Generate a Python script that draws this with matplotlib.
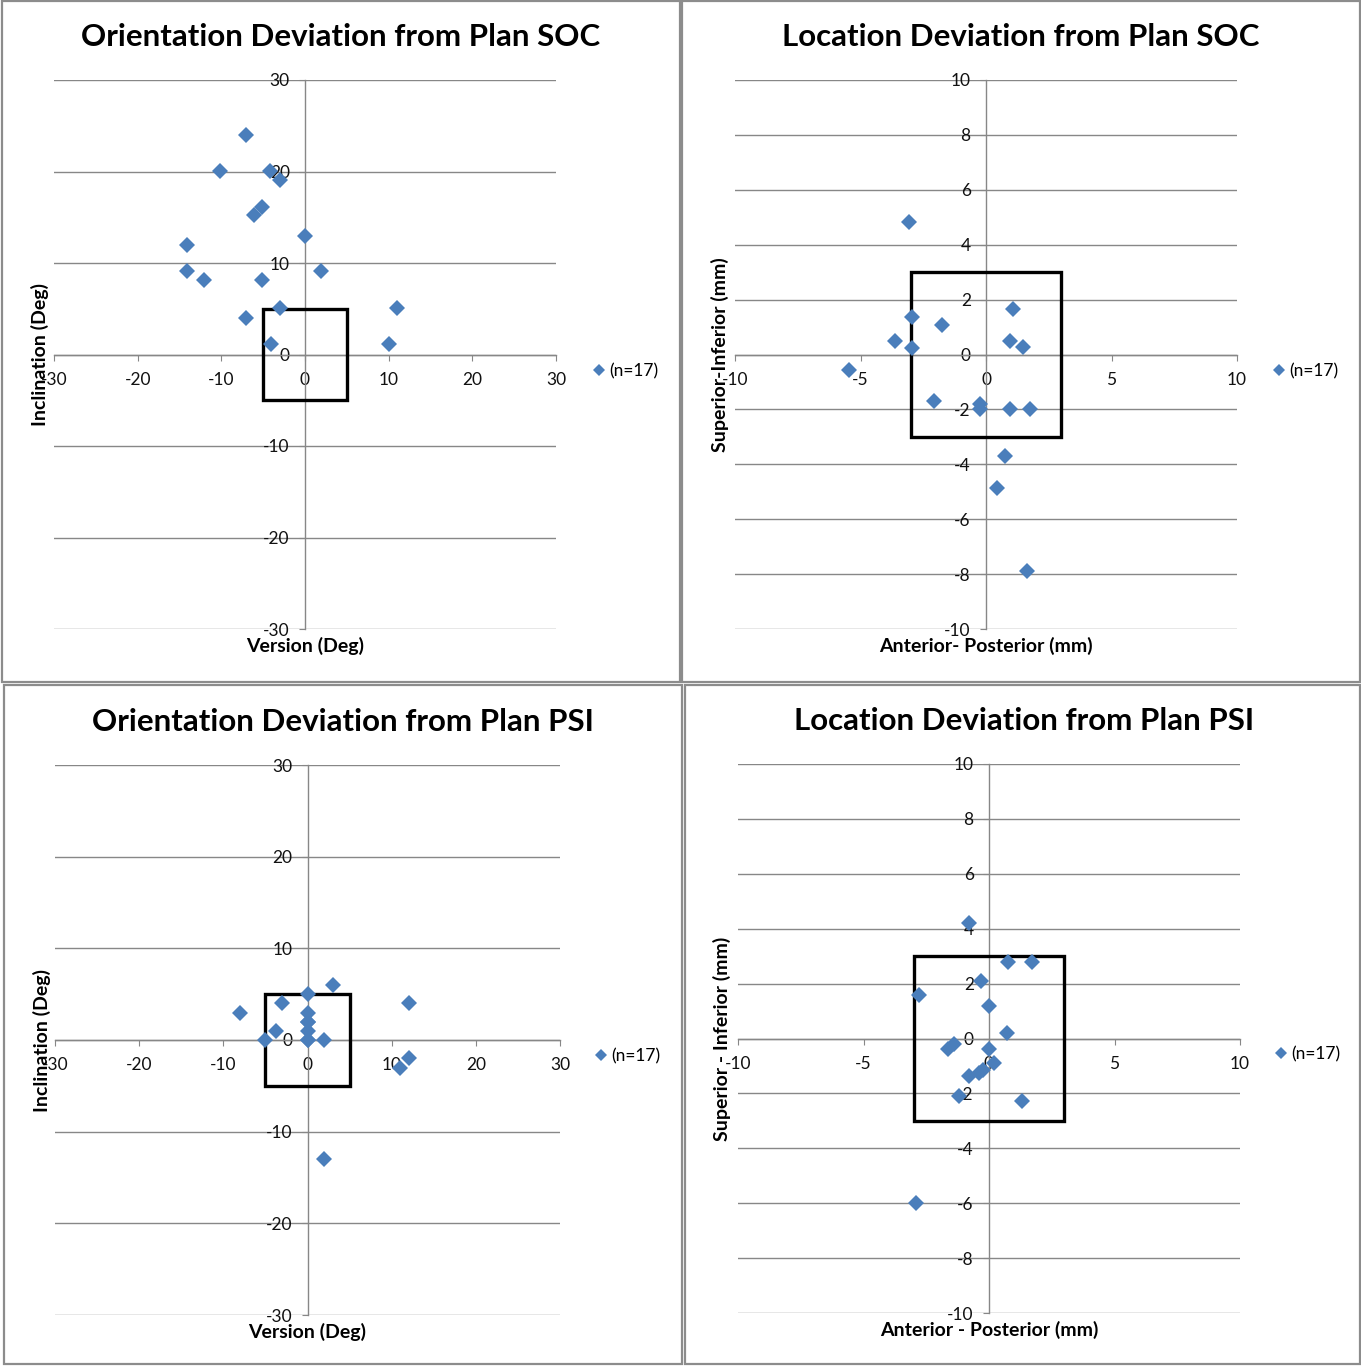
import numpy as np
import matplotlib
matplotlib.use("Agg")
import matplotlib.pyplot as plt
from matplotlib.patches import Rectangle

# ---------------- data ----------------
soc_version = [-7.0, -10.2, -4.2, -3.0, -5.1, -6.1, 0.0, -14.1, -14.1, 1.9, -12.1, -5.1, -3.0, -7.0, 11.0, -4.1, 10.0]
soc_inclination = [24.0, 20.1, 20.1, 19.1, 16.1, 15.2, 13.0, 12.0, 9.1, 9.1, 8.1, 8.1, 5.1, 4.0, 5.1, 1.1, 1.1]

soc_ap = [-3.07, 1.08, -2.95, -1.75, -3.63, 0.96, 1.47, -2.95, -5.46, -2.07, -0.24, -0.24, 0.96, 1.75, 0.76, 0.44, 1.63]
soc_si = [4.81, 1.64, 1.35, 1.06, 0.51, 0.51, 0.29, 0.22, -0.58, -1.68, -1.79, -1.97, -1.97, -1.97, -3.68, -4.88, -7.87]

psi_version = [3.0, 0.0, -3.0, 12.0, -8.0, 0.0, 0.0, 0.0, -3.8, -5.0, 0.0, 2.0, 12.0, 11.0, 2.0, 0.0, 0.0]
psi_inclination = [6.0, 5.0, 4.0, 4.0, 3.0, 3.0, 2.0, 1.0, 1.0, 0.0, 0.0, 0.0, -2.0, -3.0, -13.0, 0.0, 2.0]

psi_ap = [-0.8, 0.75, 1.7, -0.3, -2.8, 0.0, 0.7, -1.4, -1.65, 0.0, 0.2, -0.25, -0.4, -0.8, -1.2, 1.3, -2.9]
psi_si = [4.2, 2.8, 2.8, 2.1, 1.6, 1.2, 0.2, -0.2, -0.4, -0.4, -0.9, -1.15, -1.25, -1.37, -2.1, -2.27, -6.0]

orient_ticks_x = [-30, -20, -10, 0, 10, 20, 30]
orient_ticks_y = [-30, -20, -10, 0, 10, 20, 30]
loc_ticks_x = [-10, -5, 0, 5, 10]
loc_ticks_y = [-10, -8, -6, -4, -2, 0, 2, 4, 6, 8, 10]

orient_tol = 5
loc_tol = 3
series_label = "(n=17)"

# ---------------- style ----------------
W, H = 1361, 1366
FONT = ["Lato", "DejaVu Sans"]
plt.rcParams["font.family"] = FONT
GRID = "#878787"
BLUE = "#4A7EBB"

fig = plt.figure(figsize=(W / 100, H / 100), dpi=100)


def axpos(x0, y0, x1, y1):
    return [x0 / W, 1 - y1 / H, (x1 - x0) / W, (y1 - y0) / H]


def fx(px):
    return px / W


def fy(py):
    return 1 - py / H


def panel(box, xs, ys, xticks, yticks, tol, title, title_xy, xlabel, xlabel_y,
          ylabel, ylabel_x, legend_xy):
    ax = fig.add_axes(axpos(*box))
    ax.set_xlim(xticks[0], xticks[-1])
    ax.set_ylim(yticks[0], yticks[-1])
    ax.set_xticks(xticks)
    ax.set_yticks(yticks)
    ax.set_xticklabels([str(t) for t in xticks])
    ax.set_yticklabels([str(t) for t in yticks])
    for s in ["top", "right"]:
        ax.spines[s].set_visible(False)
    ax.spines["left"].set_position(("data", 0))
    ax.spines["bottom"].set_position(("data", 0))
    for s in ["left", "bottom"]:
        ax.spines[s].set_color(GRID)
        ax.spines[s].set_linewidth(1.0)
    ax.yaxis.grid(True, color=GRID, linewidth=1.0)
    ax.set_axisbelow(True)
    ax.tick_params(axis="x", direction="out", length=4, color=GRID,
                   labelsize=12.5, pad=8.5, labelcolor="#111111")
    ax.tick_params(axis="y", direction="out", length=4, color=GRID,
                   labelsize=12.5, pad=7, labelcolor="#111111")
    ax.patch.set_alpha(0)
    ax.add_patch(Rectangle((-tol, -tol), 2 * tol, 2 * tol, fill=False,
                           edgecolor="black", linewidth=2.4, zorder=4))
    ax.plot(xs, ys, linestyle="none", marker="D", color=BLUE, markersize=8.3,
            markeredgewidth=0, label=series_label, zorder=5, clip_on=False)
    ax.legend(loc="center left", bbox_to_anchor=(fx(legend_xy[0]), fy(legend_xy[1])),
              bbox_transform=fig.transFigure, frameon=False, fontsize=12.5,
              handlelength=0.6, handletextpad=0.3, markerscale=0.72,
              borderpad=0, borderaxespad=0)
    fig.text(fx(title_xy[0]), fy(title_xy[1]), title, ha="center", va="center",
             fontsize=22.5, fontweight="bold")
    cx = (box[0] + box[2]) / 2
    fig.text(fx(cx), fy(xlabel_y), xlabel, ha="center", va="center",
             fontsize=14, fontweight="bold")
    cy = (box[1] + box[3]) / 2
    fig.text(fx(ylabel_x), fy(cy), ylabel, ha="center", va="center",
             rotation=90, fontsize=14, fontweight="bold")
    return ax


panel((54, 80, 556, 629), soc_version, soc_inclination, orient_ticks_x, orient_ticks_y,
      orient_tol, "Orientation Deviation from Plan SOC", (341, 37),
      "Version (Deg)", 646, "Inclination (Deg)", 40, (594, 371))
panel((735, 80, 1237, 629), soc_ap, soc_si, loc_ticks_x, loc_ticks_y,
      loc_tol, "Location Deviation from Plan SOC", (1021, 37),
      "Anterior- Posterior (mm)", 646, "Superior-Inferior (mm)", 720, (1274, 371))
panel((55, 765, 560, 1315), psi_version, psi_inclination, orient_ticks_x, orient_ticks_y,
      orient_tol, "Orientation Deviation from Plan PSI", (343, 722),
      "Version (Deg)", 1332, "Inclination (Deg)", 42, (596, 1056))
panel((738, 764, 1240, 1313), psi_ap, psi_si, loc_ticks_x, loc_ticks_y,
      loc_tol, "Location Deviation from Plan PSI", (1024, 721),
      "Anterior - Posterior (mm)", 1330, "Superior - Inferior (mm)", 722, (1276, 1054))

# panel frames
for (x0, y0, x1, y1) in [(2, 1, 680, 682), (682, 1, 1360, 682),
                         (4, 685, 682, 1364), (685, 685, 1360, 1364)]:
    fig.add_artist(Rectangle((fx(x0), fy(y1)), (x1 - x0) / W, (y1 - y0) / H,
                             transform=fig.transFigure, fill=False,
                             edgecolor="#8c8c8c", linewidth=1.6))

fig.savefig("out.png", dpi=100)
